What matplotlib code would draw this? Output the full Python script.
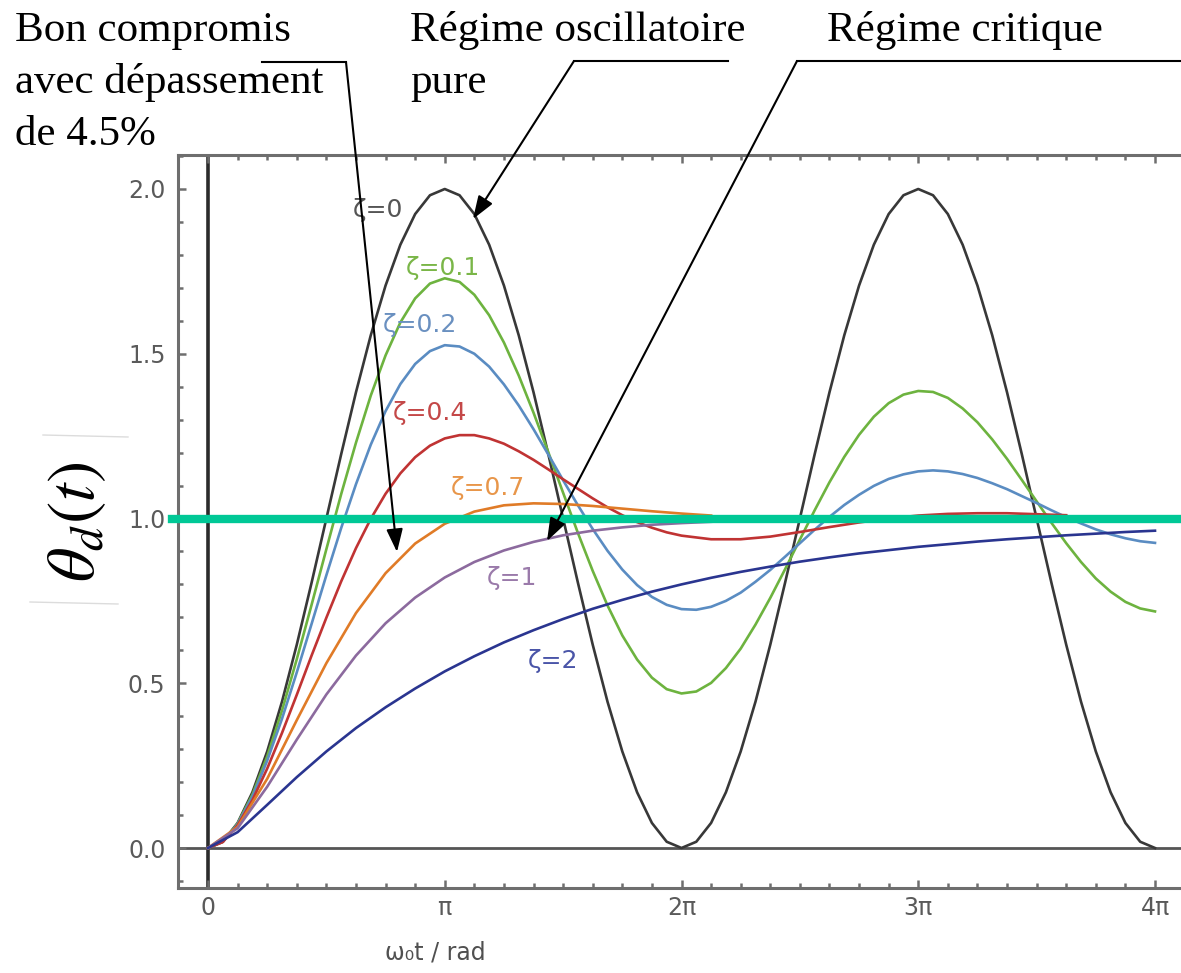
import numpy as np
import matplotlib
matplotlib.use('Agg')
import matplotlib.pyplot as plt
from matplotlib.lines import Line2D
from matplotlib.ticker import FixedLocator, MultipleLocator

plt.rcParams['mathtext.fontset'] = 'stix'

# ---------------- data ----------------
# abscissa samples: omega0*t in multiples of pi
t_fine_over_pi = np.linspace(0, 4, 65)     # step pi/16
t_coarse_over_pi = np.linspace(0, 4, 33)   # step pi/8
t_z04_over_pi = np.concatenate([np.linspace(0, 2, 33), np.linspace(2.125, 3.625, 13)])

# fine grid series (step pi/16)
theta_z0 = [0, 0.019, 0.076, 0.169, 0.293, 0.444, 0.617, 0.805, 1.0, 1.195, 1.383, 1.556,
            1.707, 1.831, 1.924, 1.981, 2.0, 1.981, 1.924, 1.831, 1.707, 1.556, 1.383, 1.195,
            1.0, 0.805, 0.617, 0.444, 0.293, 0.169, 0.076, 0.019, 0.0, 0.019, 0.076, 0.169,
            0.293, 0.444, 0.617, 0.805, 1.0, 1.195, 1.383, 1.556, 1.707, 1.831, 1.924, 1.981,
            2.0, 1.981, 1.924, 1.831, 1.707, 1.556, 1.383, 1.195, 1.0, 0.805, 0.617, 0.444,
            0.293, 0.169, 0.076, 0.019, 0.0]
theta_z01 = [0, 0.019, 0.074, 0.162, 0.278, 0.417, 0.573, 0.738, 0.907, 1.074, 1.230, 1.373,
             1.495, 1.595, 1.668, 1.713, 1.729, 1.718, 1.679, 1.617, 1.534, 1.434, 1.321, 1.201,
             1.078, 0.956, 0.841, 0.736, 0.645, 0.572, 0.517, 0.482, 0.469, 0.475, 0.501, 0.546,
             0.605, 0.678, 0.759, 0.846, 0.936, 1.025, 1.110, 1.187, 1.254, 1.309, 1.350, 1.376,
             1.387, 1.384, 1.366, 1.334, 1.292, 1.240, 1.181, 1.117, 1.052, 0.987, 0.925, 0.868,
             0.818, 0.778, 0.747, 0.727, 0.718]
theta_z02 = [0, 0.019, 0.072, 0.156, 0.265, 0.392, 0.533, 0.680, 0.828, 0.971, 1.104, 1.224,
             1.326, 1.408, 1.469, 1.508, 1.526, 1.522, 1.500, 1.461, 1.407, 1.343, 1.271, 1.194,
             1.116, 1.040, 0.968, 0.902, 0.845, 0.798, 0.762, 0.738, 0.725, 0.723, 0.732, 0.750,
             0.775, 0.808, 0.844, 0.884, 0.925, 0.966, 1.005, 1.041, 1.072, 1.099, 1.120, 1.134,
             1.143, 1.146, 1.143, 1.135, 1.123, 1.107, 1.089, 1.068, 1.047, 1.025, 1.004, 0.985,
             0.967, 0.952, 0.940, 0.931, 0.926]

# zeta = 0.4 : pi/16 steps up to 2 pi, then pi/8 steps
theta_z04 = [0, 0.018, 0.069, 0.145, 0.241, 0.349, 0.465, 0.584, 0.699, 0.809, 0.910, 0.999,
             1.075, 1.137, 1.186, 1.221, 1.243, 1.253, 1.253, 1.243, 1.227, 1.204, 1.178, 1.149,
             1.119, 1.090, 1.061, 1.034, 1.010, 0.989, 0.972, 0.958, 0.948,
             0.937, 0.937, 0.945, 0.959, 0.974, 0.988, 1.000, 1.009, 1.014, 1.016, 1.016, 1.013,
             1.010]

# coarse grid series (step pi/8)
theta_z07 = [0, 0.064, 0.210, 0.388, 0.561, 0.713, 0.834, 0.924, 0.984, 1.021, 1.040, 1.046,
             1.044, 1.038, 1.030, 1.022, 1.015, 1.009]
theta_z1 = [0, 0.060, 0.186, 0.329, 0.466, 0.584, 0.682, 0.760, 0.821, 0.868, 0.903, 0.929,
            0.949, 0.963, 0.973, 0.981, 0.986, 0.990]
theta_z2 = [0, 0.048, 0.131, 0.215, 0.293, 0.364, 0.427, 0.484, 0.536, 0.582, 0.624, 0.661,
            0.695, 0.726, 0.753, 0.778, 0.800, 0.820, 0.838, 0.854, 0.869, 0.882, 0.894, 0.904,
            0.914, 0.922, 0.930, 0.937, 0.943, 0.949, 0.954, 0.959, 0.963]

curve_labels = ['ζ=0', 'ζ=0.1', 'ζ=0.2', 'ζ=0.4', 'ζ=0.7', 'ζ=1', 'ζ=2']
xtick_vals = [0, 1, 2, 3, 4]
xtick_labels = ['0', 'π', '2π', '3π', '4π']
ytick_vals = [0.0, 0.5, 1.0, 1.5, 2.0]
ytick_labels = ['0.0', '0.5', '1.0', '1.5', '2.0']

# ---------------- figure ----------------
W, H = 1181, 973
fig = plt.figure(figsize=(W / 100, H / 100), dpi=100)


def fx(px):
    return px / W


def fy(py):
    return 1 - py / H


ax = fig.add_axes([fx(178), fy(888), (1200 - 178) / W, (888 - 155) / H])
rad_per_px = 4 * np.pi / 947.0
ax.set_xlim((178 - 208) * rad_per_px, (1200 - 208) * rad_per_px)
ax.set_ylim((848 - 888) / 329.5, (848 - 155) / 329.5)

for s in ax.spines.values():
    s.set_color('#6e6e6e')
    s.set_linewidth(2.2)
ax.spines['right'].set_visible(False)

ax.axvline(0, color='#2b2b2b', lw=2.6, zorder=1)
ax.axhline(0, color='#555555', lw=2.0, zorder=1)

series = [(t_fine_over_pi, theta_z0), (t_fine_over_pi, theta_z01), (t_fine_over_pi, theta_z02),
          (t_z04_over_pi, theta_z04), (t_coarse_over_pi, theta_z07),
          (t_coarse_over_pi, theta_z1), (t_coarse_over_pi, theta_z2)]
colors = ['#383838', '#6db33f', '#5a8cc2', '#c03333', '#e07b27', '#8c6a9e', '#2a3590']
for (tg, vals), c in zip(series, colors):
    n = len(vals)
    ax.plot(tg[:n] * np.pi, vals, color=c, lw=1.9, zorder=3)

label_pos_px = [(378, 210), (443, 268), (420, 325), (430, 413), (488, 488), (512, 578), (553, 661)]
label_colors = ['#555555', '#7ab648', '#6a90c0', '#c44848', '#e8964a', '#9a7aaa', '#4a55a8']
for lab, (px, py), c in zip(curve_labels, label_pos_px, label_colors):
    ax.text((px - 208) * rad_per_px, (848 - py) / 329.5, lab, color=c, fontsize=18,
            ha='center', va='center', zorder=4)

# green reference line at 1
ax.axhline(1.0, xmin=-0.006, xmax=1, color='#00c896', lw=6, zorder=6, clip_on=False)

ax.xaxis.set_major_locator(FixedLocator([v * np.pi for v in xtick_vals]))
ax.set_xticklabels(xtick_labels)
ax.xaxis.set_minor_locator(MultipleLocator(np.pi / 8))
ax.yaxis.set_major_locator(FixedLocator(ytick_vals))
ax.set_yticklabels(ytick_labels)
ax.yaxis.set_minor_locator(MultipleLocator(0.1))
ax.tick_params(which='both', direction='in', top=True, right=False, color='#6e6e6e', width=1.8,
               labelcolor='#5a5a5a', labelsize=17)
ax.tick_params(which='major', length=6)
ax.tick_params(which='minor', length=3.5)
ax.tick_params(axis='x', pad=6)
ax.tick_params(axis='y', pad=9)

# axis labels
fig.text(fx(435), fy(952), 'ω₀t / rad', fontsize=17, color='#505050', ha='center', va='center')
fig.text(fx(75), fy(522), r'$\theta_d(t)$', rotation=90, fontsize=48, ha='center', va='center')
fig.add_artist(Line2D([fx(43), fx(128)], [fy(435), fy(437)], color='#dcdcdc', lw=1))
fig.add_artist(Line2D([fx(30), fx(118)], [fy(602), fy(604)], color='#dcdcdc', lw=1))

# annotations
serif = 'Liberation Serif'
fig.text(fx(15), fy(41), 'Bon compromis', fontfamily=serif, fontsize=31, va='baseline')
fig.text(fx(15), fy(93), 'avec dépassement', fontfamily=serif, fontsize=31, va='baseline')
fig.text(fx(15), fy(145), 'de 4.5%', fontfamily=serif, fontsize=31, va='baseline')
fig.text(fx(410), fy(41), 'Régime oscillatoire', fontfamily=serif, fontsize=31, va='baseline')
fig.text(fx(410), fy(93), 'pure', fontfamily=serif, fontsize=31, va='baseline')
fig.text(fx(827), fy(41), 'Régime critique', fontfamily=serif, fontsize=31, va='baseline')

leaders = [((262, 62), (346, 62), (397, 552)),
           ((728, 61), (574, 61), (473, 219)),
           ((1181, 61), (797, 61), (547, 541))]
for (x0, y0), (xc, yc), (xt, yt) in leaders:
    fig.add_artist(Line2D([fx(x0), fx(xc)], [fy(y0), fy(yc)], color='black', lw=1.5, zorder=10))
    ax.annotate('', xy=(fx(xt), fy(yt)), xytext=(fx(xc), fy(yc)),
                xycoords='figure fraction', textcoords='figure fraction',
                arrowprops=dict(arrowstyle='-|>,head_length=0.7,head_width=0.25', color='black',
                                lw=1.5, mutation_scale=20, shrinkA=0, shrinkB=0),
                annotation_clip=False, zorder=10)

fig.savefig('out.png', dpi=100)
